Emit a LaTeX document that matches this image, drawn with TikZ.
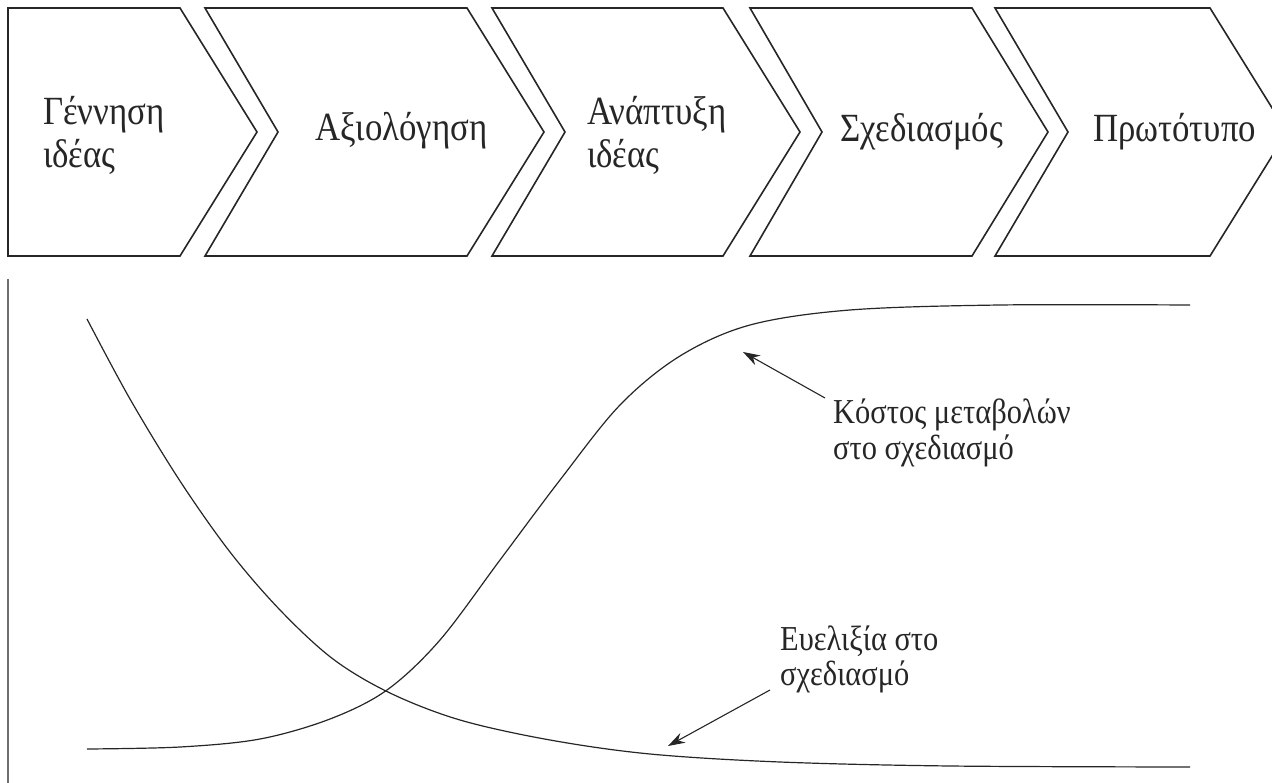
\documentclass[tikz,border=0pt]{standalone}
\usepackage{fontspec}
\setmainfont{Liberation Serif}[FakeStretch=0.87]
\usetikzlibrary{arrows.meta}
\definecolor{ink}{HTML}{262626}
\definecolor{axisgray}{HTML}{6E6E6E}
\tikzset{
  chev/.style={draw=ink, line width=1.6pt, line join=miter},
  steplabel/.style={anchor=base west, inner sep=0pt, text=ink, font=\fontsize{40}{44}\selectfont},
  notelabel/.style={anchor=base west, inner sep=0pt, text=ink, font=\fontsize{35}{38}\selectfont},
  curve/.style={draw=ink, line width=1.2pt},
  pointer/.style={draw=ink, line width=1.1pt, -{Stealth[length=17pt,width=11pt]}},
}
\begin{document}
\begin{tikzpicture}[x=1pt,y=-1pt]
\useasboundingbox (0,0) rectangle (1272,783);
\clip (0,0) rectangle (1272,783);
% chevrons
\draw[chev] (8,8) -- (180,8) -- (257,132) -- (180,256) -- (8,256) -- cycle;
\draw[chev] (205,8) -- (467,8) -- (544,132) -- (467,256) -- (205,256) -- (278,132) -- cycle;
\draw[chev] (492,8) -- (723,8) -- (800,132) -- (723,256) -- (492,256) -- (565,132) -- cycle;
\draw[chev] (750,8) -- (972,8) -- (1048,132) -- (972,256) -- (750,256) -- (822,132) -- cycle;
\draw[chev] (995,8) -- (1210,8) -- (1287,132) -- (1210,256) -- (995,256) -- (1068,132) -- cycle;
% step labels
\node[steplabel] (s1a) at (43,125) {Γέννηση};
\node[steplabel] (s1b) at (43,168) {ιδέας};
\node[steplabel] (s2) at (315,141) {Αξιολόγηση};
\node[steplabel] (s3a) at (587,125) {Ανάπτυξη};
\node[steplabel] (s3b) at (587,168) {ιδέας};
\node[steplabel] (s4) at (840,142) {Σχεδιασμός};
\node[steplabel] (s5) at (1093,142) {Πρωτότυπο};
% axis
\draw[draw=axisgray, line width=2pt] (8,279) -- (8,783);
% curves
\draw[curve] plot[smooth, tension=0.55] coordinates {(87,319) (130,399) (180,481) (230,552) (280,610) (333,659) (390,693) (460,720) (550,740) (650,754) (780,762) (950,766) (1190,767)};
\draw[curve] plot[smooth, tension=0.55] coordinates {(87,749) (180,747) (260,739) (330,719) (387,690) (440,640) (500,560) (560,480) (620,405) (680,356) (750,325) (850,310) (1000,305) (1190,305)};
% notes
\node[notelabel] (n1a) at (833,424) {Κόστος μεταβολών};
\node[notelabel] (n1b) at (833,459) {στο σχεδιασμό};
\node[notelabel] (n2a) at (780,650) {Ευελιξία στο};
\node[notelabel] (n2b) at (780,685) {σχεδιασμό};
\coordinate (t1) at (825,398);
\coordinate (h1) at (743,352);
\coordinate (t2) at (770,690);
\coordinate (h2) at (668,746);
\draw[pointer] (t1) -- (h1);
\draw[pointer] (t2) -- (h2);
\end{tikzpicture}
\end{document}
